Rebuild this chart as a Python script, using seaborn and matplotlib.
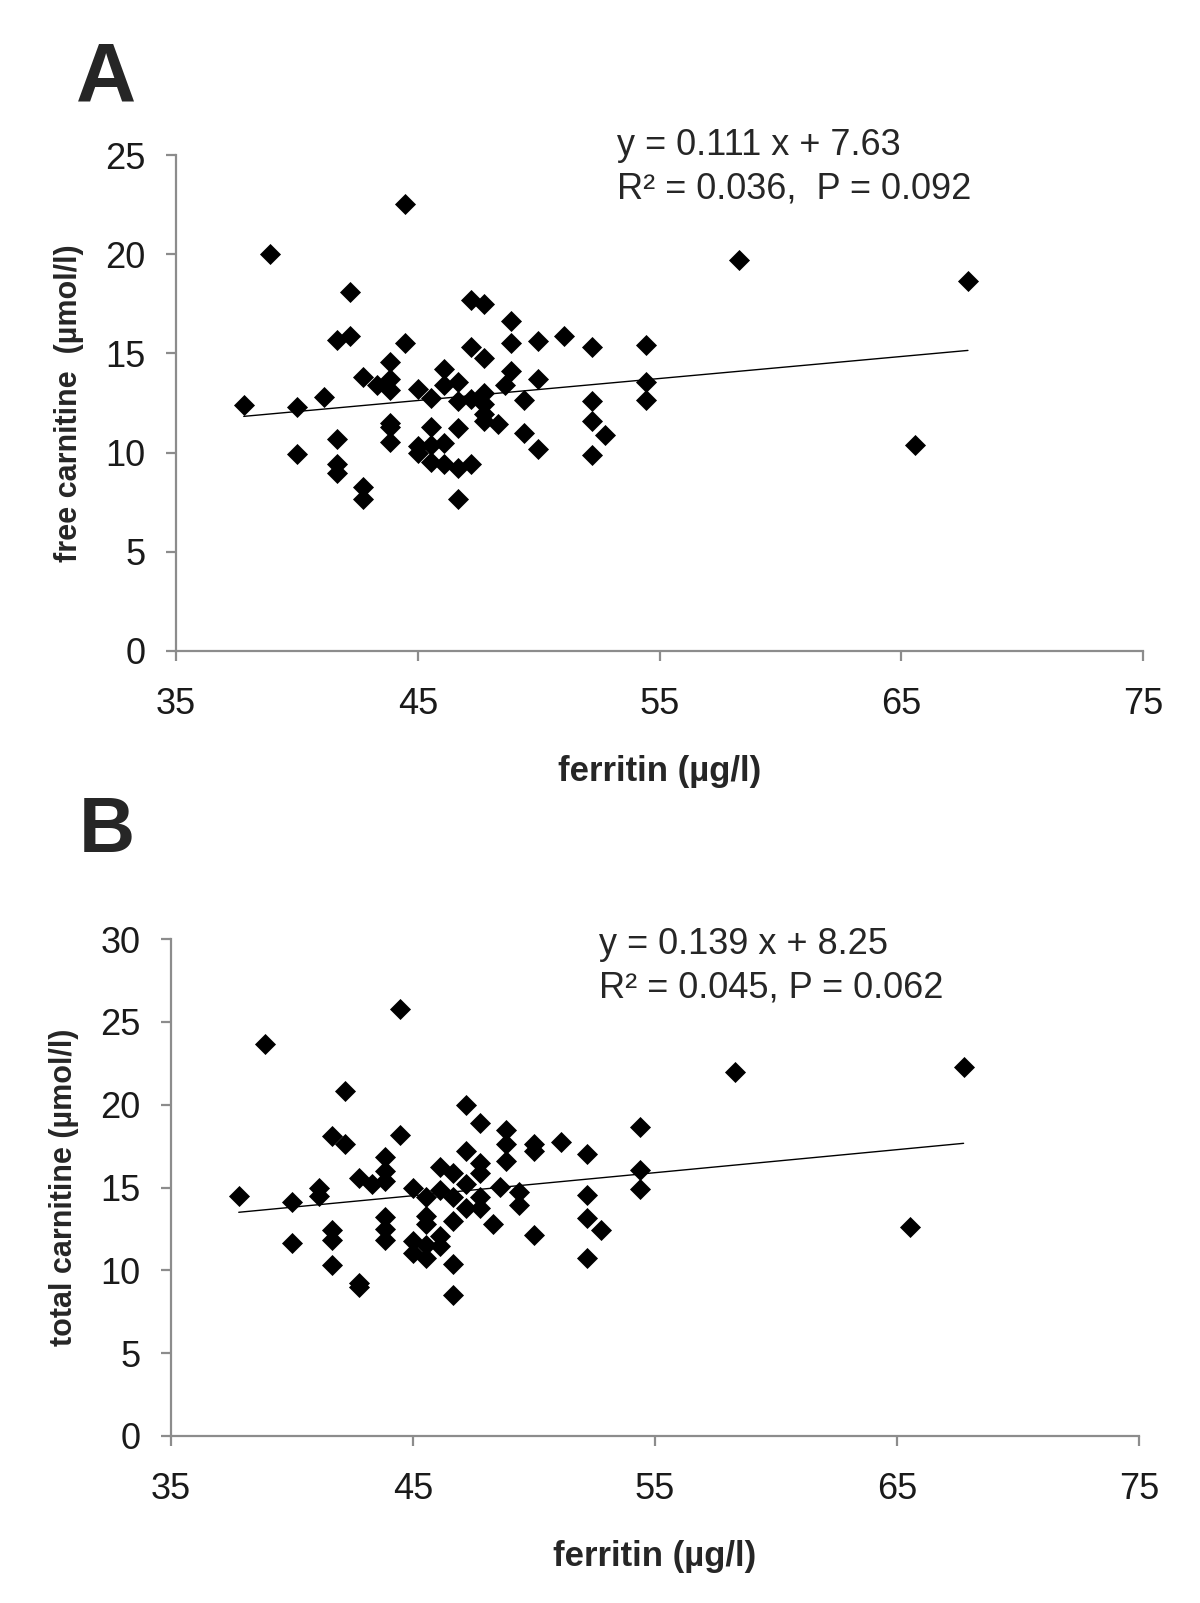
import matplotlib
matplotlib.use('Agg')
import matplotlib.pyplot as plt
import pandas as pd
import seaborn as sns
import numpy as np

sns.set_theme(style="white")
plt.rcParams['font.family'] = ['Liberation Sans', 'DejaVu Sans']

# data
ferritin_a = [37.8, 38.9, 44.45, 40.0, 40.0, 41.1, 42.2, 41.65, 42.2, 41.65, 41.65, 41.65,
              42.75, 43.3, 42.75, 42.75, 43.85, 43.85, 43.85, 43.85, 43.85, 43.85, 44.45,
              45.0, 45.0, 45.0, 45.55, 45.55, 45.55, 45.55, 46.1, 46.1, 46.1, 46.1,
              46.65, 46.65, 46.65, 46.65, 46.65, 47.2, 47.2, 47.2, 47.2,
              47.75, 47.75, 47.75, 47.75, 47.75, 47.75, 48.3, 48.6, 48.85, 48.85, 48.85,
              49.4, 49.4, 49.95, 49.95, 49.95, 51.05, 52.2, 52.2, 52.2, 52.2, 52.75,
              54.45, 54.45, 54.45, 58.3, 65.55, 67.75]
free_carnitine = [12.4, 20.0, 22.55, 12.3, 9.95, 12.8, 18.1, 15.7, 15.9, 10.7, 9.4, 8.95,
                  13.8, 13.4, 8.25, 7.65, 14.55, 13.7, 13.15, 11.5, 11.3, 10.55, 15.5,
                  13.2, 10.35, 10.0, 12.75, 11.3, 10.4, 9.55, 14.2, 13.4, 10.5, 9.45,
                  13.55, 12.6, 11.25, 9.2, 7.65, 17.7, 15.3, 12.7, 9.45,
                  17.5, 14.75, 13.0, 12.45, 11.95, 11.6, 11.45, 13.4, 16.65, 15.5, 14.1,
                  12.65, 11.0, 15.6, 13.7, 10.2, 15.9, 15.3, 12.6, 11.6, 9.9, 10.9,
                  15.4, 13.55, 12.65, 19.7, 10.4, 18.65]

ferritin_b = [37.8, 38.9, 44.45, 40.0, 40.0, 41.1, 41.1, 42.2, 41.65, 42.2, 41.65, 41.65,
              41.65, 42.75, 42.75, 42.75, 43.3, 43.85, 43.85, 43.85, 43.85, 43.85, 43.85,
              44.45, 45.0, 45.0, 45.0, 45.55, 45.55, 45.55, 45.55, 45.55, 46.1, 46.1,
              46.1, 46.1, 46.65, 46.65, 46.65, 46.65, 46.65, 47.2, 47.2, 47.2, 47.2,
              47.75, 47.75, 47.75, 47.75, 47.75, 48.3, 48.6, 48.85, 48.85, 48.85,
              49.4, 49.4, 50.0, 50.0, 50.0, 51.1, 52.2, 52.2, 52.2, 52.2, 52.75,
              54.4, 54.4, 54.4, 58.3, 65.55, 67.75]
total_carnitine = [14.5, 23.65, 25.75, 14.15, 11.65, 15.0, 14.5, 20.85, 18.1, 17.6, 12.45, 11.85,
                   10.3, 15.6, 9.25, 9.0, 15.2, 16.85, 16.0, 15.4, 13.2, 12.5, 11.85,
                   18.15, 15.0, 11.75, 11.05, 14.45, 13.25, 12.8, 11.55, 10.75, 16.25, 14.85,
                   12.05, 11.45, 15.9, 14.45, 12.95, 10.4, 8.5, 20.0, 17.2, 15.2, 13.75,
                   18.9, 16.45, 15.9, 14.45, 13.75, 12.8, 15.05, 18.5, 17.6, 16.6,
                   14.75, 13.95, 17.6, 17.2, 12.15, 17.75, 17.0, 14.55, 13.15, 10.75, 12.45,
                   18.65, 16.05, 14.9, 22.0, 12.6, 22.25]

# fitted lines printed on the figure
fit_a = (0.111, 7.63)
fit_b = (0.139, 8.25)
eq_a = ['y = 0.111 x + 7.63', 'R\u00b2 = 0.036,  P = 0.092']
eq_b = ['y = 0.139 x + 8.25', 'R\u00b2 = 0.045, P = 0.062']
x_ticks = [35, 45, 55, 65, 75]

axis_grey = '#8c8c8c'
fts_tick = 26
fts_xlabel = 25
fts_ylabel = 22


def draw_panel(ax, x, y, fit, eq, ylabel, ymax, eq_pos):
    df = pd.DataFrame({'x': x, 'y': y})
    sns.scatterplot(data=df, x='x', y='y', marker='D', color='black', s=115,
                    edgecolor='black', linewidth=0, ax=ax, zorder=3)
    xs = np.array([min(x), max(x)])
    line = pd.DataFrame({'x': xs, 'y': fit[0] * xs + fit[1]})
    sns.lineplot(data=line, x='x', y='y', color='black', linewidth=1.0, ax=ax, zorder=2)
    ax.set_xlim(35, 75)
    ax.set_ylim(0, ymax)
    ax.set_xticks(x_ticks)
    ax.set_yticks(np.arange(0, ymax + 1, 5))
    for s in ['top', 'right']:
        ax.spines[s].set_visible(False)
    for s in ['left', 'bottom']:
        ax.spines[s].set_color(axis_grey)
        ax.spines[s].set_linewidth(1.6)
    ax.tick_params(axis='both', direction='out', length=7, width=1.6, color=axis_grey,
                   labelsize=fts_tick, labelcolor='#1a1a1a')
    ax.tick_params(axis='x', pad=19, bottom=True)
    ax.tick_params(axis='y', pad=15, left=True)
    ax.set_xlabel('ferritin (\u00b5g/l)', fontsize=fts_xlabel, fontweight='bold', labelpad=24)
    ax.set_ylabel(ylabel, fontsize=fts_ylabel, fontweight='bold', labelpad=15)
    ax.text(eq_pos[0], eq_pos[1], eq[0], fontsize=fts_tick, va='center', ha='left', clip_on=False)
    ax.text(eq_pos[0], eq_pos[2], eq[1], fontsize=fts_tick, va='center', ha='left', clip_on=False)
    ax.grid(False)


fig = plt.figure(figsize=(12, 16.03), dpi=100)
ax_a = fig.add_axes([0.1467, 0.5939, 0.806, 0.3094])
ax_b = fig.add_axes([0.1425, 0.1042, 0.8067, 0.3100])

draw_panel(ax_a, ferritin_a, free_carnitine, fit_a, eq_a, 'free carnitine  (\u00b5mol/l)', 25,
           (53.25, 25.5, 23.3))
draw_panel(ax_b, ferritin_b, total_carnitine, fit_b, eq_b, 'total carnitine (\u00b5mol/l)', 30,
           (52.7, 29.7, 27.05))

fig.text(0.063, 0.975, 'A', fontsize=60, fontweight='bold', va='top', ha='left')
fig.text(0.066, 0.5040, 'B', fontsize=56, fontweight='bold', va='top', ha='left')

plt.savefig('out.png', dpi=100)
plt.close()
